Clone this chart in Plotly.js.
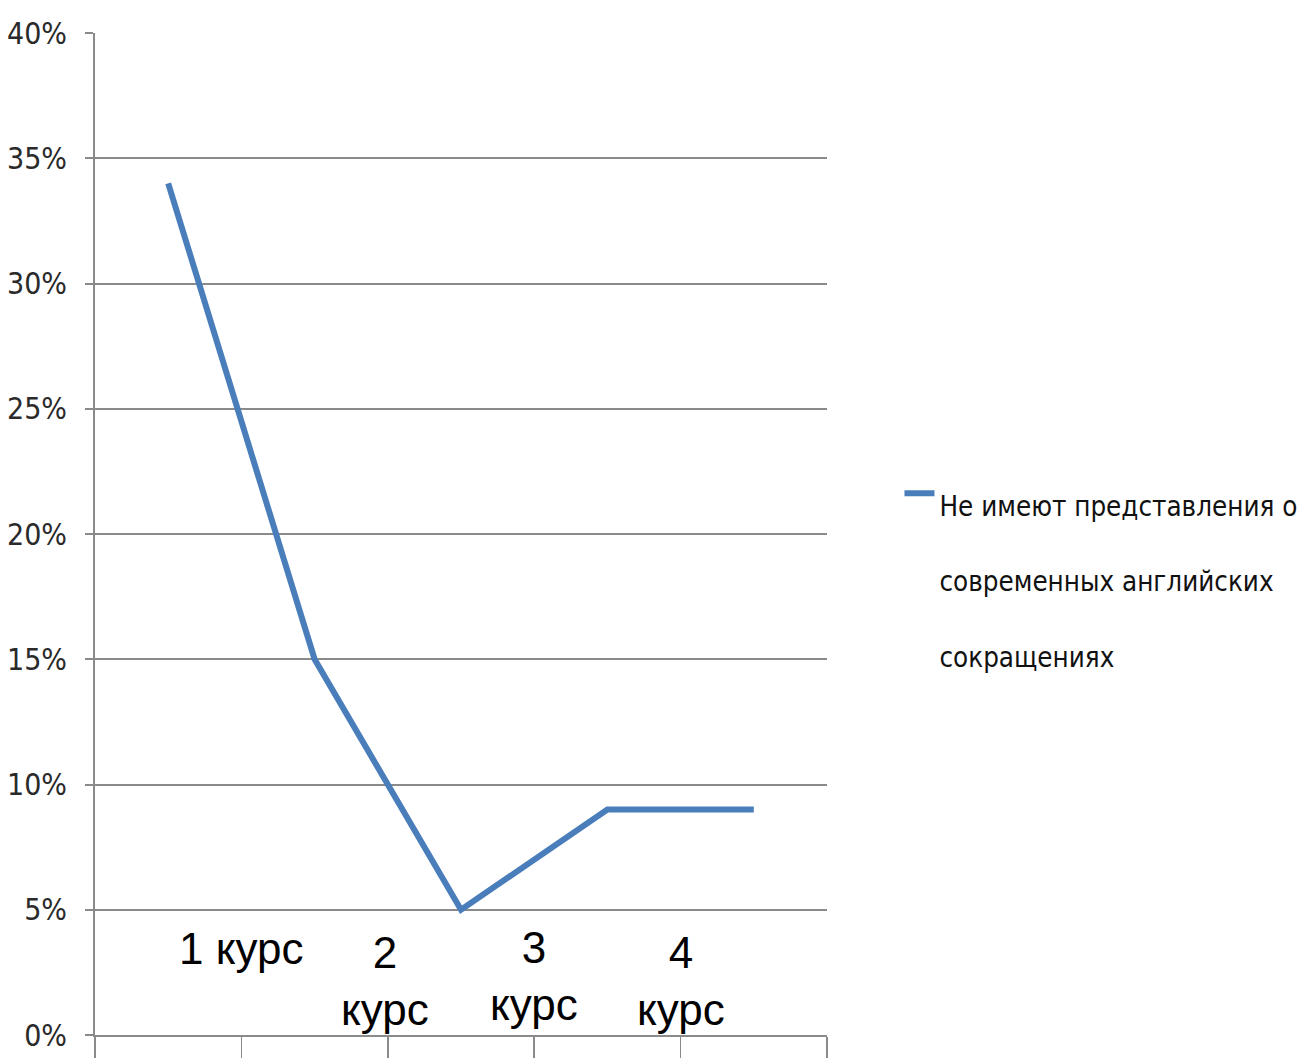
<!DOCTYPE html>
<html>
<head>
<meta charset="utf-8">
<script src="https://cdn.plot.ly/plotly-3.0.1.min.js"></script>
<style>html,body{margin:0;padding:0;background:#fff;}#chart{width:1306px;height:1058px;}</style>
</head>
<body>
<div id="chart"></div>
<script>
// Data
var categories = ["1", "2", "3", "4", "5"];
var values = [0.34, 0.15, 0.05, 0.09, 0.09];
var seriesName = ["Не имеют представления о", "современных английских", "сокращениях"];
var courseLabels = ["1 курс", "2<br>курс", "3<br>курс", "4<br>курс"];
var yTicks = [0, 0.05, 0.10, 0.15, 0.20, 0.25, 0.30, 0.35, 0.40];

var narrow = '"DejaVu Sans Condensed", "Liberation Sans Narrow", sans-serif';
var gridCol = '#8a8a8a';

var trace = {
  x: categories,
  y: values,
  type: 'scatter',
  mode: 'lines',
  name: seriesName.map(function (s) { return '<span style="font-size:27.5px">' + s + '</span>'; }).join('<br>'),
  line: {color: '#4a7ebb', width: 6},
  hoverinfo: 'skip'
};

// label anchor positions (between categories), vertical placement per label
var labelX = [0.5, 1.48, 2.5, 3.5];
var labelY = [0.0347, 0.0216, 0.0236, 0.0216];
var annotations = courseLabels.map(function (t, i) {
  return {
    x: labelX[i], y: labelY[i], xref: 'x', yref: 'y',
    text: t, showarrow: false, xanchor: 'center', yanchor: 'middle',
    align: 'center',
    font: {family: '"Liberation Sans", Arial, sans-serif', size: 44, color: '#000'}
  };
});

var layout = {
  width: 1306, height: 1058,
  margin: {l: 95, r: 479, t: 33, b: 23, autoexpand: false},
  paper_bgcolor: '#fff', plot_bgcolor: '#fff',
  showlegend: true,
  legend: {
    x: 1.099, xanchor: 'left', y: 0.465, yanchor: 'middle',
    valign: 'top',
    font: {family: narrow, size: 58, color: '#111'},
    bgcolor: 'rgba(0,0,0,0)', borderwidth: 0
  },
  xaxis: {
    type: 'category',
    range: [-0.5, 4.5],
    showticklabels: false,
    showgrid: false,
    zeroline: false,
    showline: true, linecolor: gridCol, linewidth: 2,
    ticks: 'outside', tickson: 'boundaries', ticklen: 22, tickwidth: 1.5, tickcolor: gridCol
  },
  yaxis: {
    range: [0, 0.4],
    tickvals: yTicks,
    tickformat: '.0%',
    showgrid: true, gridcolor: gridCol, gridwidth: 2,
    zeroline: false,
    showline: true, linecolor: gridCol, linewidth: 2,
    ticks: 'outside', ticklen: 8, tickwidth: 2, tickcolor: gridCol,
    ticklabelstandoff: 12,
    tickfont: {family: narrow, size: 30, color: '#2a2a2a'}
  },
  annotations: annotations
};

Plotly.newPlot('chart', [trace], layout, {staticPlot: true, displayModeBar: false});
</script>
</body>
</html>
